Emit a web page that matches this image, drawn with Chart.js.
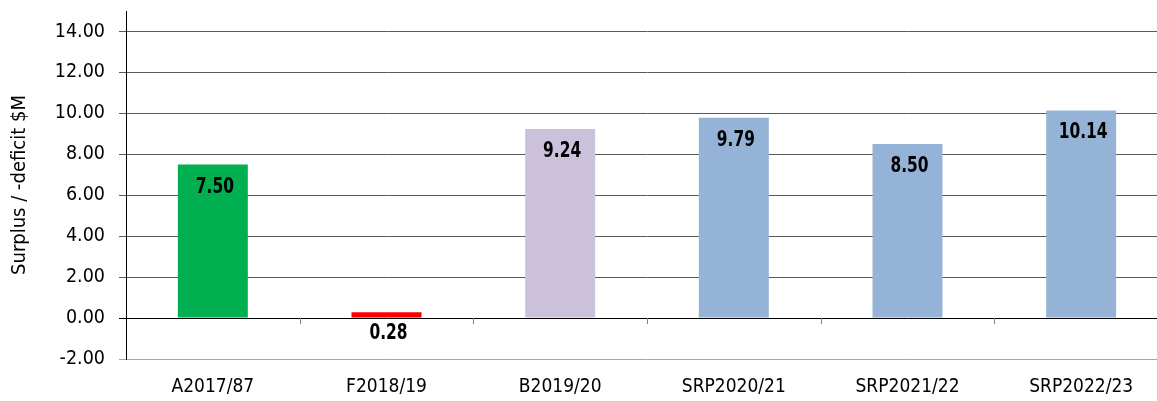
<!DOCTYPE html>
<html lang="en">
<head>
<meta charset="UTF-8">
<title>Surplus / deficit</title>
<script src="https://cdn.jsdelivr.net/npm/chart.js"></script>
<style>
    html, body {
        margin: 0;
        padding: 0;
        background: #fff;
        overflow: hidden;
    }
    .chart-box {
        position: relative;
        width: 1168px;
        height: 401px;
    }
</style>
</head>
<body>
<div class="chart-box"><canvas id="surplusChart"></canvas></div>
<script>
// data
const categories = ['A2017/87', 'F2018/19', 'B2019/20', 'SRP2020/21', 'SRP2021/22', 'SRP2022/23'];
const surplus = [7.50, 0.28, 9.24, 9.79, 8.50, 10.14];
const barColours = ['#00b050', '#ff0000', '#ccc1da', '#95b3d7', '#95b3d7', '#95b3d7'];
const yMin = -2;
const yMax = 15;
const yStep = 2;

const axisFont = "'DejaVu Sans Condensed', 'DejaVu Sans', sans-serif";

// value labels: inside the top of each bar, under the axis when the bar is too short
const valueLabels = {
    id: 'valueLabels',
    afterDatasetsDraw(chart) {
        const ctx = chart.ctx;
        const meta = chart.getDatasetMeta(0);
        meta.data.forEach((bar, i) => {
            const text = surplus[i].toFixed(2);
            const ty = (bar.base - bar.y > 40) ? bar.y + 28 : bar.base + 21;
            ctx.save();
            ctx.font = "bold 22px " + axisFont;
            ctx.fillStyle = '#000';
            ctx.textAlign = 'center';
            ctx.textBaseline = 'alphabetic';
            // squeeze a little to look like a narrow face
            ctx.translate(bar.x + 2, ty);
            ctx.scale(0.78, 1);
            ctx.fillText(text, 0, 0);
            ctx.restore();
        });
    }
};

// short tick marks between categories, hanging from the zero line
const categoryTicks = {
    id: 'categoryTicks',
    afterDraw(chart) {
        const ctx = chart.ctx;
        const x = chart.scales.x;
        const y0 = chart.scales.y.getPixelForValue(0);
        ctx.save();
        ctx.strokeStyle = '#808080';
        ctx.lineWidth = 1;
        for (let i = 1; i < categories.length; i++) {
            const px = Math.round((x.getPixelForValue(i - 1) + x.getPixelForValue(i)) / 2) + 0.5;
            ctx.beginPath();
            ctx.moveTo(px, y0);
            ctx.lineTo(px, y0 + 6);
            ctx.stroke();
        }
        ctx.restore();
    }
};

function gridColour(ctx) {
    if (!ctx.tick) return '#595959';
    if (ctx.tick.value === 0) return '#000';
    if (ctx.tick.value === yMin) return '#a6a6a6';
    return '#595959';
}

new Chart(document.getElementById('surplusChart'), {
    type: 'bar',
    data: {
        labels: categories,
        datasets: [{
            data: surplus,
            backgroundColor: barColours,
            borderWidth: 0,
            barPercentage: 0.403,
            categoryPercentage: 1.0
        }]
    },
    options: {
        responsive: true,
        maintainAspectRatio: false,
        animation: false,
        layout: {
            padding: { top: 11, right: 0, bottom: 1, left: 8 }
        },
        plugins: {
            legend: { display: false },
            tooltip: { enabled: false }
        },
        scales: {
            x: {
                grid: { display: false, drawTicks: false },
                border: { display: false },
                ticks: {
                    color: '#000',
                    padding: 17,
                    font: { family: axisFont, size: 19 }
                },
                afterFit(scale) {
                    scale.height = 41;
                }
            },
            y: {
                min: yMin,
                max: yMax,
                afterBuildTicks(scale) {
                    const ticks = [];
                    for (let v = yMin; v < yMax; v += yStep) ticks.push({ value: v });
                    scale.ticks = ticks;
                },
                afterFit(scale) {
                    scale.width = 118;
                    scale.paddingTop = 0;
                    scale.paddingBottom = 0;
                },
                ticks: {
                    color: '#000',
                    padding: 14,
                    font: { family: axisFont, size: 19.5 },
                    callback: v => Number(v).toFixed(2)
                },
                grid: {
                    color: gridColour,
                    lineWidth: 1,
                    tickLength: 7
                },
                border: { display: true, color: '#000', width: 1 },
                title: {
                    display: true,
                    text: 'Surplus / -deficit $M',
                    color: '#000',
                    padding: { top: 0, bottom: 10 },
                    font: { family: axisFont, size: 20 }
                }
            }
        }
    },
    plugins: [valueLabels, categoryTicks]
});
</script>
</body>
</html>
